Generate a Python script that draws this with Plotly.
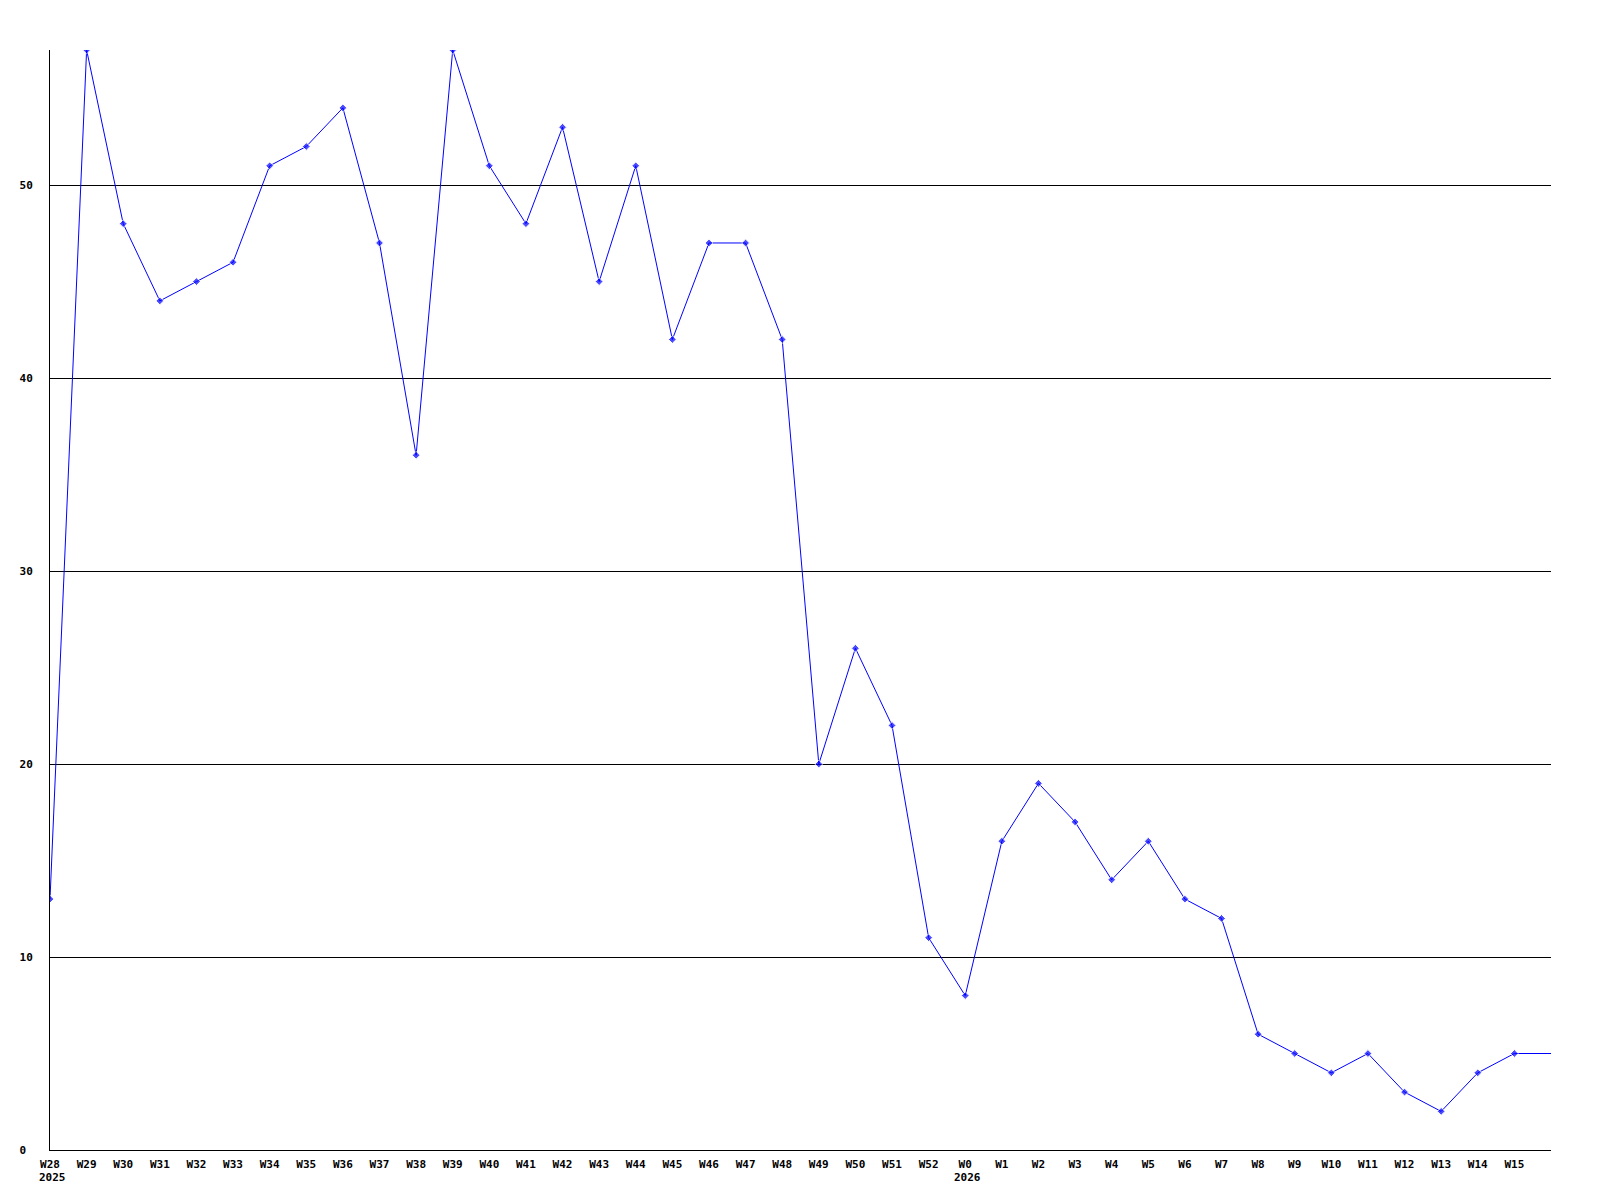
import plotly.graph_objects as go

# weekly counts, W28 2025 .. W15 2026 (last value carries the line to the edge)
weeks = ["W28", "W29", "W30", "W31", "W32", "W33", "W34", "W35", "W36", "W37",
         "W38", "W39", "W40", "W41", "W42", "W43", "W44", "W45", "W46", "W47",
         "W48", "W49", "W50", "W51", "W52", "W0", "W1", "W2", "W3", "W4",
         "W5", "W6", "W7", "W8", "W9", "W10", "W11", "W12", "W13", "W14", "W15"]
counts = [13, 57, 48, 44, 45, 46, 51, 52, 54, 47,
          36, 57, 51, 48, 53, 45, 51, 42, 47, 47,
          42, 20, 26, 22, 11, 8, 16, 19, 17, 14,
          16, 13, 12, 6, 5, 4, 5, 3, 2, 4, 5]
tail_value = 5
years = {"W28": "2025", "W0": "2026"}
y_ticks = [0, 10, 20, 30, 40, 50]

font = dict(family="DejaVu Sans Mono", size=11, color="black", weight="bold")

xs = list(range(len(weeks))) + [len(weeks)]
ys = counts + [tail_value]

fig = go.Figure()

fig.add_trace(go.Scatter(
    x=xs, y=ys,
    mode="lines+markers",
    line=dict(color="#0000ff", width=1),
    marker=dict(symbol="diamond", size=[6] * len(weeks) + [0], color="#0000ff"),
    showlegend=False,
    hoverinfo="skip",
))

# year labels under the first week of each year
for wk, yr in years.items():
    fig.add_annotation(
        x=weeks.index(wk), y=0, xref="x", yref="paper",
        text=yr, showarrow=False, xanchor="left", yanchor="middle",
        xshift=-13, yshift=-27, font=font,
    )

# page body has an 8px margin, so the plot box is offset accordingly
fig.update_layout(
    width=1600, height=1200,
    margin=dict(l=42, r=57, t=42, b=58),
    paper_bgcolor="white", plot_bgcolor="white",
    font=font,
    xaxis=dict(
        range=[0, len(weeks)],
        tickvals=list(range(len(weeks))), ticktext=weeks,
        showgrid=False, zeroline=False,
        showline=True, linecolor="black", linewidth=1,
        ticks="", ticklabelstandoff=4,
    ),
    yaxis=dict(
        range=[0, 57],
        tickvals=y_ticks,
        ticktext=[str(v) + "\u00a0" * (2 - len(str(v))) for v in y_ticks],
        showgrid=True, gridcolor="black", gridwidth=1,
        zeroline=False,
        showline=True, linecolor="black", linewidth=1,
        ticks="", ticklabelstandoff=14,
    ),
)

fig.write_html("out.html")
